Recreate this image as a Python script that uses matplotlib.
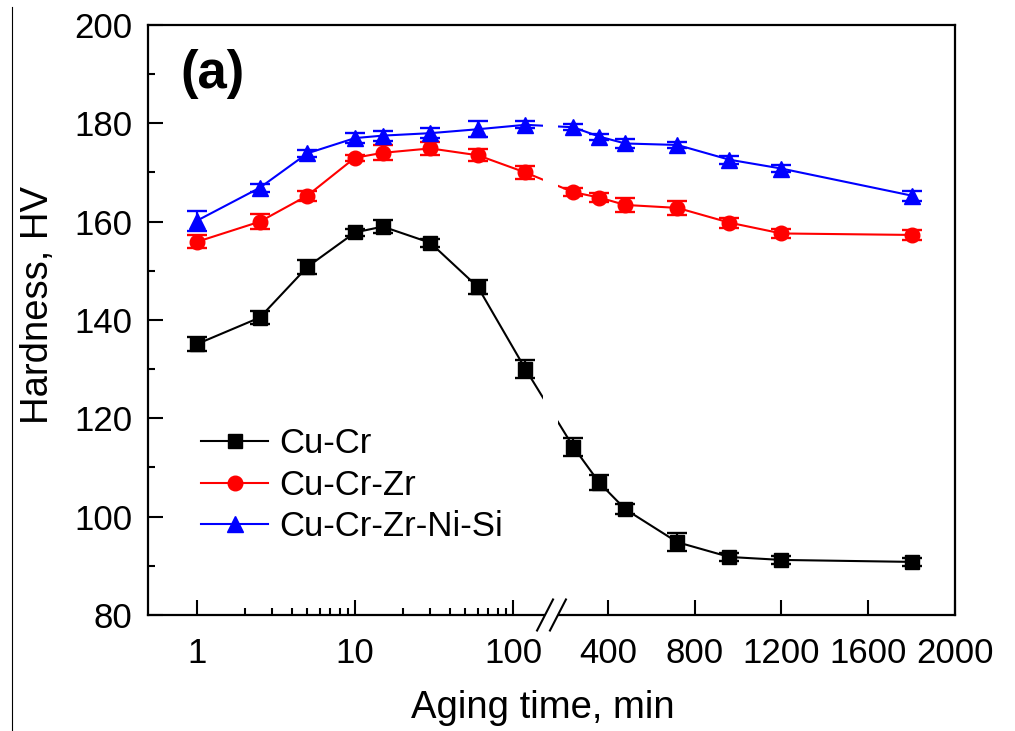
## Hardness vs aging time, broken x axis (log part + linear part)
import numpy as np
import matplotlib
matplotlib.use('Agg')
import matplotlib.pyplot as plt
from matplotlib.lines import Line2D
from matplotlib.patches import Polygon

plt.rcParams['font.family'] = ['Liberation Sans', 'DejaVu Sans']

## Data
aging_time = [1, 2.5, 5, 10, 15, 30, 60, 120, 240, 360, 480, 720, 960, 1200, 1800]

hv_cucr = [135.1, 140.5, 150.8, 157.8, 159.0, 155.7, 146.7, 130.0,
           114.2, 106.9, 101.5, 94.8, 91.8, 91.2, 90.8]
err_cucr = [1.5, 1.3, 1.5, 0.8, 1.3, 0.8, 1.5, 1.8,
            1.8, 1.5, 1.0, 1.8, 0.8, 0.8, 0.8]

hv_cucrzr = [155.9, 160.0, 165.3, 173.0, 174.0, 174.9, 173.5, 170.0,
             166.0, 164.9, 163.4, 162.8, 159.8, 157.6, 157.3]
err_cucrzr = [1.3, 1.5, 1.0, 0.6, 1.5, 1.3, 1.2, 1.3,
              0.8, 0.9, 1.5, 1.5, 1.0, 1.0, 1.0]

hv_nisi = [160.2, 166.9, 173.9, 177.0, 177.5, 178.0, 178.8, 179.7,
           179.2, 177.3, 175.9, 175.6, 172.6, 170.8, 165.3]
err_nisi = [2.0, 0.8, 0.7, 1.0, 1.0, 1.0, 1.6, 0.7,
            0.6, 0.6, 1.0, 0.6, 0.8, 0.8, 1.0]

series_names = ['Cu-Cr', 'Cu-Cr-Zr', 'Cu-Cr-Zr-Ni-Si']

x_ticks = [1, 10, 100, 400, 800, 1200, 1600, 2000]
x_minor = [2, 3, 4, 5, 6, 7, 8, 9, 20, 30, 40, 50, 60, 70, 80, 90]
y_ticks = [80, 100, 120, 140, 160, 180, 200]


## Piecewise scale: log10 up to the break, then linear
T_BREAK = 155.0      # last value on the log side
X_RESUME = 169.0     # first value drawn on the linear side
U400 = 2.6013        # position of 400 min in "decade" units
SLOPE = 0.0013726    # decades per minute on the linear side


def fwd(x):
    x = np.asarray(x, dtype=float)
    lg = np.log10(np.where(x > 0, x, 1e-300))
    return np.where(x <= T_BREAK, lg, U400 + (x - 400.0) * SLOPE)


def inv(u):
    u = np.asarray(u, dtype=float)
    ub = np.log10(T_BREAK)
    lo = np.power(10.0, np.minimum(u, ub))
    hi = 400.0 + (u - U400) / SLOPE
    return np.where(u <= ub, lo, np.where(hi > T_BREAK, hi, T_BREAK))


fig = plt.figure(figsize=(10.15, 7.31), dpi=100)
ax = fig.add_axes([0.1458, 0.1587, 0.7951, 0.8071])
ax.set_xscale('function', functions=(fwd, inv))

containers = []
for vals, errs, col, mk, ms in [(hv_cucr, err_cucr, 'black', 's', 9.5),
                                (hv_cucrzr, err_cucrzr, 'red', 'o', 10.5),
                                (hv_nisi, err_nisi, 'blue', '^', 12)]:
    c = ax.errorbar(aging_time, vals, yerr=errs, fmt='-' + mk, color=col,
                    ms=ms, lw=1.5, elinewidth=1.6, capsize=7, capthick=1.7)
    containers.append(c)

# blank out the lines across the axis break
ax.axvspan(T_BREAK, X_RESUME, color='white', lw=0, zorder=2.3)

ax.set_xlim(0.49, 2000)
ax.set_ylim(80, 200)

ax.set_xticks(x_ticks)
ax.set_xticklabels([str(v) for v in x_ticks])
ax.set_xticks(x_minor, minor=True)
ax.set_yticks(y_ticks)
ax.set_yticks(np.arange(90, 200, 20), minor=True)

ax.tick_params(which='both', direction='in', top=False, right=False,
               labelsize=25, width=1.5)
ax.tick_params(which='major', length=11)
ax.tick_params(which='minor', length=5)
ax.tick_params(axis='x', pad=16)
ax.tick_params(axis='y', pad=11)
for sp in ax.spines.values():
    sp.set_linewidth(1.6)

ax.set_xlabel('Aging time, min', fontsize=27.5)
ax.set_ylabel('Hardness, HV', fontsize=27.5)
ax.xaxis.set_label_coords(0.489, -0.127)
ax.yaxis.set_label_coords(-0.114, 0.525)

ax.text(0.04, 0.893, '(a)', transform=ax.transAxes, fontsize=38,
        fontweight='bold', va='baseline', ha='left')

ax.legend(handles=[c[0] for c in containers], labels=series_names,
          loc='center left', bbox_to_anchor=(0.066, 0.22), frameon=False,
          fontsize=25, handlelength=1.93, handletextpad=0.32,
          labelspacing=0.25, borderpad=0, borderaxespad=0)

## break marks "//" on the bottom axis
c1, c2 = 0.492, 0.508
hw, hh = 0.0099, 0.0263
ax.add_patch(Polygon([(c1 - hw, -hh), (c2 - hw, -hh), (c2 + hw, hh), (c1 + hw, hh)],
                     closed=True, transform=ax.transAxes, facecolor='white',
                     edgecolor='none', clip_on=False, zorder=5))
for cx in (c1, c2):
    ax.add_line(Line2D([cx - hw, cx + hw], [-hh, hh], transform=ax.transAxes,
                       color='black', lw=1.5, clip_on=False, zorder=6))

# thin scan edge on the far left of the original picture
fig.add_artist(Line2D([12 / 1015, 12 / 1015], [0, 1 - 7 / 731], color='black', lw=0.8))

fig.savefig('out.png', dpi=100)
